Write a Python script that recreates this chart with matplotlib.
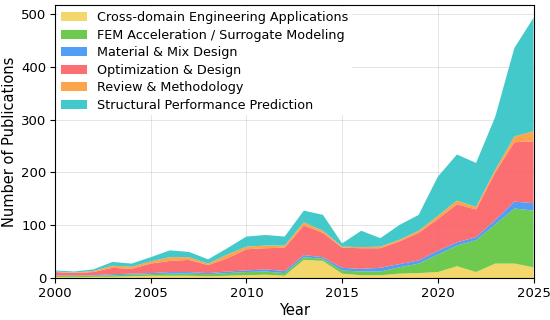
import numpy as np
import matplotlib
matplotlib.use('Agg')
import matplotlib.pyplot as plt

years = np.arange(2000, 2026)

# publications per year for each topic (stack order, bottom to top)
cross_domain = [3, 2, 3, 3, 4, 5, 5, 5, 4, 5, 6, 7, 5, 35, 33, 9, 6, 6, 9, 10, 12, 23, 12, 28, 28, 21]
fem_surrogate = [2, 2, 2, 3, 3, 3, 4, 4, 4, 5, 6, 6, 5, 5, 4, 6, 7, 7, 12, 18, 33, 39, 60, 74, 104, 107]
material_mix = [1, 1, 1, 2, 2, 2, 3, 3, 2, 3, 3, 4, 4, 4, 3, 5, 5, 7, 6, 6, 7, 6, 6, 8, 13, 14]
optimization = [6, 5, 6, 12, 9, 18, 21, 23, 15, 25, 40, 40, 44, 56, 46, 38, 39, 37, 43, 52, 60, 72, 52, 90, 112, 117]
review = [1, 1, 2, 4, 4, 4, 7, 5, 3, 7, 5, 5, 4, 6, 4, 2, 2, 3, 3, 4, 6, 7, 5, 5, 11, 19]
structural = [2, 2, 3, 7, 6, 8, 13, 10, 8, 12, 19, 20, 17, 22, 30, 6, 31, 16, 28, 30, 74, 87, 83, 100, 167, 214]

labels = ['Cross-domain Engineering Applications',
          'FEM Acceleration / Surrogate Modeling',
          'Material & Mix Design',
          'Optimization & Design',
          'Review & Methodology',
          'Structural Performance Prediction']
colors = ['#f2d35a', '#5ec43c', '#3d94f5', '#fb5f64', '#fd9a3a', '#2ec4c4']

fig, ax = plt.subplots(figsize=(5.5, 3.2), dpi=100)
ax.stackplot(years, cross_domain, fem_surrogate, material_mix, optimization,
             review, structural, labels=labels, colors=colors, alpha=0.9)

total = np.sum([cross_domain, fem_surrogate, material_mix, optimization,
                review, structural], axis=0)
ax.set_xlim(2000, 2025)
ax.set_ylim(0, total.max() * 1.05)
ax.set_xticks(range(2000, 2026, 5))
ax.set_yticks(range(0, 501, 100))
ax.tick_params(labelsize=9.5, pad=2.5)
ax.set_xlabel('Year', fontsize=10.5, labelpad=2)
ax.set_ylabel('Number of Publications', fontsize=10.5, labelpad=3)
ax.grid(True, color='#cccccc', alpha=0.6, linewidth=0.6)
ax.set_axisbelow(True)

leg = ax.legend(loc='upper left', fontsize=9.2, frameon=True, framealpha=1,
                edgecolor='none', borderaxespad=0.2, borderpad=0.3,
                labelspacing=0.35, handlelength=2.0)

plt.subplots_adjust(left=0.1, right=0.97, bottom=0.13, top=0.985)
plt.savefig('out.png', dpi=100)
